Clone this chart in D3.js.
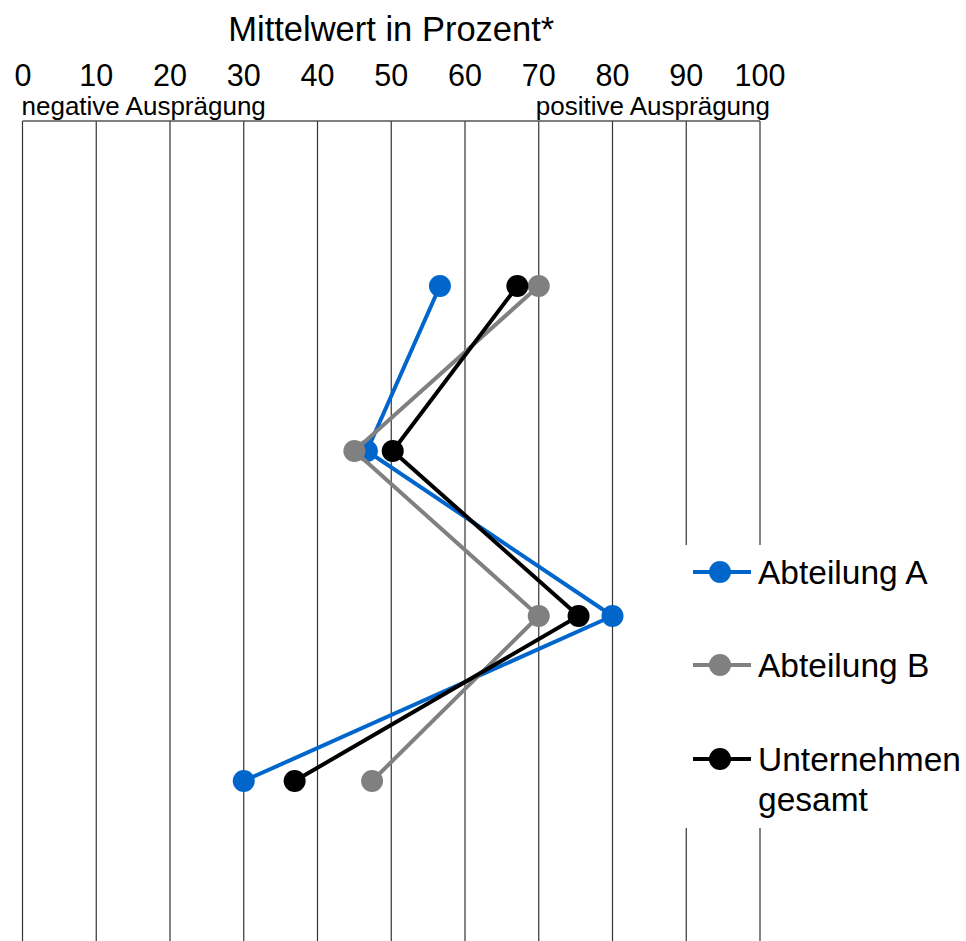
<!DOCTYPE html>
<html>
<head>
<meta charset="utf-8">
<script src="https://cdn.jsdelivr.net/npm/d3@7"></script>
<style>
  html, body { margin: 0; padding: 0; background: #ffffff; }
  svg { display: block; font-family: Arial, "Liberation Sans", sans-serif; }
</style>
</head>
<body>
<svg id="chart" width="966" height="941"></svg>
<script>
// Rows (the original item labels are not shown in the picture)
const items = ["Item 1", "Item 2", "Item 3", "Item 4"];

const seriesNames = ["Abteilung A", "Abteilung B", "Unternehmen gesamt"];
const abteilungA = [56.6, 46.7, 80, 30];
const abteilungB = [70, 45, 70, 47.4];
const unternehmen = [67.1, 50.2, 75.4, 36.9];
const seriesColors = ["#0066cc", "#808080", "#000000"];

const xTicks = [0, 10, 20, 30, 40, 50, 60, 70, 80, 90, 100];

const width = 966;
const height = 941;

const svg = d3.select("#chart");

const x = d3.scaleLinear().domain([0, 100]).range([22.5, 760]);
const y = d3.scalePoint().domain(items).range([121, 946]).padding(1);

const series = [abteilungA, abteilungB, unternehmen].map((vals, i) => ({
    name: seriesNames[i],
    color: seriesColors[i],
    values: vals.map((v, j) => ({ item: items[j], value: v }))
}));

// Title
svg.append("text")
    .attr("x", (x(0) + x(100)) / 2)
    .attr("y", 41)
    .attr("text-anchor", "middle")
    .attr("font-size", 34.5)
    .attr("fill", "#000")
    .text("Mittelwert in Prozent*");

// Tick labels on top
svg.append("g")
    .selectAll("text")
    .data(xTicks)
    .join("text")
    .attr("x", d => x(d))
    .attr("y", 85.5)
    .attr("text-anchor", d => d === 0 ? "start" : "middle")
    .attr("dx", d => d === 0 ? -8 : 0)
    .attr("font-size", 30.5)
    .attr("fill", "#000")
    .text(d => d);

svg.append("text")
    .attr("x", x(0) - 1)
    .attr("y", 115)
    .attr("font-size", 26)
    .attr("fill", "#000")
    .text("negative Ausprägung");

svg.append("text")
    .attr("x", x(100) + 10)
    .attr("y", 115)
    .attr("text-anchor", "end")
    .attr("font-size", 26)
    .attr("fill", "#000")
    .text("positive Ausprägung");

// Grid
svg.append("g")
    .selectAll("line")
    .data(xTicks)
    .join("line")
    .attr("x1", d => x(d))
    .attr("x2", d => x(d))
    .attr("y1", 121)
    .attr("y2", height)
    .attr("stroke", "#333")
    .attr("stroke-width", 1.2);

svg.append("line")
    .attr("x1", x(0))
    .attr("x2", x(100))
    .attr("y1", 121)
    .attr("y2", 121)
    .attr("stroke", "#555")
    .attr("stroke-width", 1.5);

// Lines + markers
const line = d3.line()
    .x(d => x(d.value))
    .y(d => y(d.item));

series.forEach(s => {
    const g = svg.append("g");
    g.append("path")
        .attr("d", line(s.values))
        .attr("fill", "none")
        .attr("stroke", s.color)
        .attr("stroke-width", 4);
    g.selectAll("circle")
        .data(s.values)
        .join("circle")
        .attr("cx", d => x(d.value))
        .attr("cy", d => y(d.item))
        .attr("r", 11)
        .attr("fill", s.color);
});

// Legend
const legend = svg.append("g");
legend.append("rect")
    .attr("x", 680)
    .attr("y", 545)
    .attr("width", width - 680)
    .attr("height", 283)
    .attr("fill", "#fff");

const legendY = [572, 665, 759];
series.forEach((s, i) => {
    const ly = legendY[i];
    legend.append("line")
        .attr("x1", 693)
        .attr("x2", 751)
        .attr("y1", ly)
        .attr("y2", ly)
        .attr("stroke", s.color)
        .attr("stroke-width", 4);
    legend.append("circle")
        .attr("cx", 720)
        .attr("cy", ly)
        .attr("r", 11)
        .attr("fill", s.color);
    const words = i === 2 ? ["Unternehmen", "gesamt"] : [s.name];
    const t = legend.append("text")
        .attr("x", 758)
        .attr("y", ly + 12)
        .attr("font-size", 33.5)
        .attr("fill", "#000");
    words.forEach((w, k) => {
        t.append("tspan")
            .attr("x", 758)
            .attr("dy", k === 0 ? 0 : 40)
            .text(w);
    });
});
</script>
</body>
</html>
